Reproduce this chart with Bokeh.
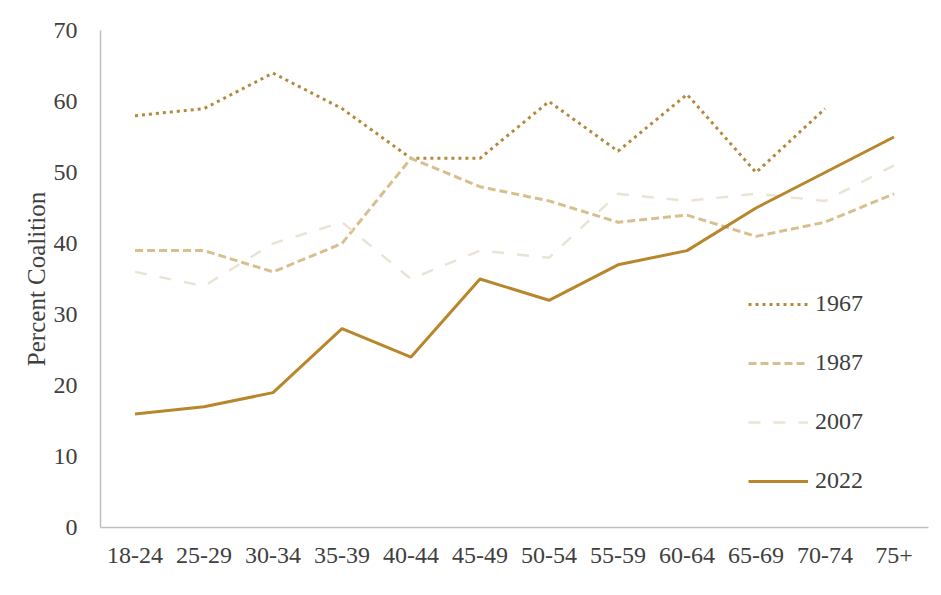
from bokeh.plotting import figure
from bokeh.models import Range1d, FactorRange, SingleIntervalTicker, Legend, LegendItem
from bokeh.embed import file_html
from bokeh.resources import INLINE

ages = ["18-24", "25-29", "30-34", "35-39", "40-44", "45-49", "50-54",
        "55-59", "60-64", "65-69", "70-74", "75+"]
y1967 = [58, 59, 64, 59, 52, 52, 60, 53, 61, 50, 59]
y1987 = [39, 39, 36, 40, 52, 48, 46, 43, 44, 41, 43, 47]
y2007 = [36, 34, 40, 43, 35, 39, 38, 47, 46, 47, 46, 51]
y2022 = [16, 17, 19, 28, 24, 35, 32, 37, 39, 45, 50, 55]

FONT = "Liberation Serif"
TXT = "#404040"

p = figure(width=933, height=588, x_range=FactorRange(factors=ages, range_padding=0),
           y_range=Range1d(0, 70), output_backend="svg", toolbar_location=None,
           min_border_left=100, min_border_top=30, min_border_bottom=61, min_border_right=5)

r1 = p.line(ages[:len(y1967)], y1967, line_color="#b5893c", line_width=3, line_dash="3 4")
r2 = p.line(ages, y1987, line_color="#d8bf8f", line_width=3, line_dash="8 4")
r3 = p.line(ages, y2007, line_color="#ebe3d5", line_width=2.5, line_dash="12 13")
r4 = p.line(ages, y2022, line_color="#b8862b", line_width=3)

p.outline_line_color = None
p.xgrid.grid_line_color = None
p.ygrid.grid_line_color = None

for ax in (p.xaxis[0], p.yaxis[0]):
    ax.axis_line_color = "#bfbfbf"
    ax.axis_line_width = 1.5
    ax.major_tick_line_color = None
    ax.minor_tick_line_color = None
    ax.major_label_text_font = FONT
    ax.major_label_text_font_size = "24px"
    ax.major_label_text_color = TXT

p.yaxis[0].ticker = SingleIntervalTicker(interval=10)
p.yaxis[0].major_label_standoff = 17
p.yaxis[0].axis_label = "Percent Coalition"
p.yaxis[0].axis_label_text_font = FONT
p.yaxis[0].axis_label_text_font_size = "25px"
p.yaxis[0].axis_label_text_font_style = "normal"
p.yaxis[0].axis_label_text_color = TXT
p.yaxis[0].axis_label_standoff = 1
p.xaxis[0].major_label_standoff = 14

legend = Legend(items=[LegendItem(label="1967", renderers=[r1]),
                       LegendItem(label="1987", renderers=[r2]),
                       LegendItem(label="2007", renderers=[r3]),
                       LegendItem(label="2022", renderers=[r4])],
                location=(648, 33), padding=0, margin=0, spacing=32,
                glyph_width=60, glyph_height=24, label_standoff=7,
                label_text_font=FONT, label_text_font_size="24px", label_text_color=TXT,
                border_line_color=None, background_fill_alpha=0)
p.add_layout(legend)

open("out.html", "w").write(file_html(p, INLINE))
